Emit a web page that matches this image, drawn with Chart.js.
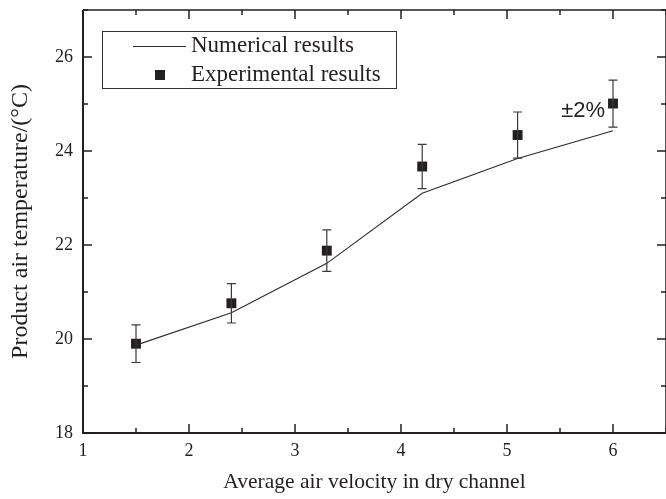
<!DOCTYPE html>
<html lang="en">
<head>
  <meta charset="UTF-8">
  <title>Product air temperature</title>
  <script src="https://cdn.jsdelivr.net/npm/chart.js"></script>
  <style>
    html, body { margin: 0; padding: 0; background: #fff; }
    #clip { width: 666px; height: 499px; overflow: hidden; }
    #wrap { width: 720px; height: 499px; }
    #tempChart { display: block; }
  </style>
</head>
<body>
  <!-- canvas is a little wider than the picture: the right axis sits on the image edge -->
  <div id="clip"><div id="wrap"><canvas id="tempChart" width="674" height="499"></canvas></div></div>

  <script>
    // values
    const velocity = [1.5, 2.4, 3.3, 4.2, 5.1, 6.0];
    const numerical = [19.87, 20.56, 21.61, 23.10, 23.84, 24.43];
    const experimental = [19.90, 20.76, 21.88, 23.67, 24.34, 25.01];
    const expError = [0.40, 0.42, 0.44, 0.47, 0.49, 0.50];
    const xTicks = [1, 2, 3, 4, 5, 6];
    const yTicks = [18, 20, 22, 24, 26];

    const serif = '"Liberation Serif", "Times New Roman", serif';
    const ink = '#231f20';

    // frame, inward ticks, error bars, legend and the ±2% note
    const extras = {
      id: 'extras',
      afterDatasetsDraw(chart) {
        const ctx = chart.ctx;
        const a = chart.chartArea;
        const xs = chart.scales.x, ys = chart.scales.y;
        ctx.save();

        // error bars
        ctx.strokeStyle = '#3a3a3a';
        ctx.lineWidth = 1.2;
        velocity.forEach((v, i) => {
          const px = xs.getPixelForValue(v);
          const top = ys.getPixelForValue(experimental[i] + expError[i]);
          const bot = ys.getPixelForValue(experimental[i] - expError[i]);
          ctx.beginPath();
          ctx.moveTo(px, top); ctx.lineTo(px, bot);
          ctx.moveTo(px - 4.5, top); ctx.lineTo(px + 4.5, top);
          ctx.moveTo(px - 4.5, bot); ctx.lineTo(px + 4.5, bot);
          ctx.stroke();
        });

        // axes frame
        ctx.strokeStyle = ink;
        ctx.lineWidth = 2;
        ctx.beginPath();
        ctx.moveTo(a.left, a.top); ctx.lineTo(a.left, a.bottom); ctx.lineTo(a.right, a.bottom);
        ctx.stroke();
        ctx.lineWidth = 1.5;
        ctx.beginPath();
        ctx.moveTo(a.left, a.top); ctx.lineTo(a.right, a.top); ctx.lineTo(a.right, a.bottom);
        ctx.stroke();

        // ticks pointing inward, major and minor
        ctx.lineWidth = 1.5;
        ctx.beginPath();
        for (let v = 1; v <= 6.5; v += 0.5) {
          const px = xs.getPixelForValue(v);
          const len = Number.isInteger(v) ? 9 : 5;
          ctx.moveTo(px, a.bottom); ctx.lineTo(px, a.bottom - len);
          ctx.moveTo(px, a.top); ctx.lineTo(px, a.top + len);
        }
        for (let v = 18; v <= 27; v += 1) {
          const py = ys.getPixelForValue(v);
          const len = v % 2 === 0 ? 9 : 5;
          ctx.moveTo(a.left, py); ctx.lineTo(a.left + len, py);
          ctx.moveTo(a.right, py); ctx.lineTo(a.right - len, py);
        }
        ctx.stroke();

        // ±2% note next to the last point
        const lastX = xs.getPixelForValue(velocity[velocity.length - 1]);
        const lastY = ys.getPixelForValue(experimental[experimental.length - 1]);
        ctx.fillStyle = ink;
        ctx.font = '22px "Liberation Sans", Arial, sans-serif';
        ctx.textAlign = 'right';
        ctx.textBaseline = 'middle';
        ctx.fillText('±2%', lastX - 8, lastY + 7);

        // legend box
        ctx.lineWidth = 1;
        ctx.strokeStyle = '#333';
        ctx.strokeRect(102.5, 31.5, 294, 57);
        ctx.beginPath();
        ctx.moveTo(133, 46.5); ctx.lineTo(186, 46.5);
        ctx.stroke();
        ctx.fillRect(155, 70, 10, 10);
        ctx.font = '23px ' + serif;
        ctx.textAlign = 'left';
        ctx.fillText('Numerical results', 191, 46);
        ctx.fillText('Experimental results', 191, 75);

        ctx.restore();
      }
    };

    const ctx = document.getElementById('tempChart').getContext('2d');
    const chart = new Chart(ctx, {
      type: 'scatter',
      data: {
        datasets: [
          {
            label: 'Numerical results',
            data: velocity.map((v, i) => ({ x: v, y: numerical[i] })),
            showLine: true,
            borderColor: '#2b2b2b',
            borderWidth: 1.1,
            pointRadius: 0,
            fill: false
          },
          {
            label: 'Experimental results',
            data: velocity.map((v, i) => ({ x: v, y: experimental[i] })),
            pointStyle: 'rect',
            pointRadius: 7,
            pointHoverRadius: 7,
            backgroundColor: ink,
            borderColor: ink,
            borderWidth: 0
          }
        ]
      },
      options: {
        responsive: false,
        maintainAspectRatio: false,
        animation: false,
        layout: { padding: 0 },
        plugins: {
          legend: { display: false },
          tooltip: { enabled: false }
        },
        scales: {
          x: {
            type: 'linear',
            min: 1,
            max: 6.5,
            afterBuildTicks: s => { s.ticks = xTicks.map(v => ({ value: v })); },
            afterFit: s => { s.height = 66; },
            grid: { display: false, drawTicks: false },
            border: { display: false },
            ticks: { color: ink, font: { family: serif, size: 18 }, padding: 7 },
            title: {
              display: true,
              text: 'Average air velocity in dry channel',
              color: ink,
              font: { family: serif, size: 21.5 },
              padding: { top: 12 }
            }
          },
          y: {
            min: 18,
            max: 27,
            afterBuildTicks: s => { s.ticks = yTicks.map(v => ({ value: v })); },
            afterFit: s => { s.width = 83; s.paddingTop = 10; s.paddingBottom = 0; },
            grid: { display: false, drawTicks: false },
            border: { display: false },
            ticks: { color: ink, font: { family: serif, size: 18 }, padding: 10 },
            title: {
              display: true,
              text: 'Product air temperature/(°C)',
              color: ink,
              font: { family: serif, size: 24 },
              padding: { top: 6, bottom: 4 }
            }
          }
        }
      },
      plugins: [extras]
    });

    // fine-tune if Chart.js reserves a different amount on the right
    for (let i = 0; i < 3; i++) {
      const gap = 666 - chart.chartArea.right;
      if (Math.abs(gap) < 0.5) break;
      chart.resize(chart.width + gap, 499);
    }
  </script>
</body>
</html>
